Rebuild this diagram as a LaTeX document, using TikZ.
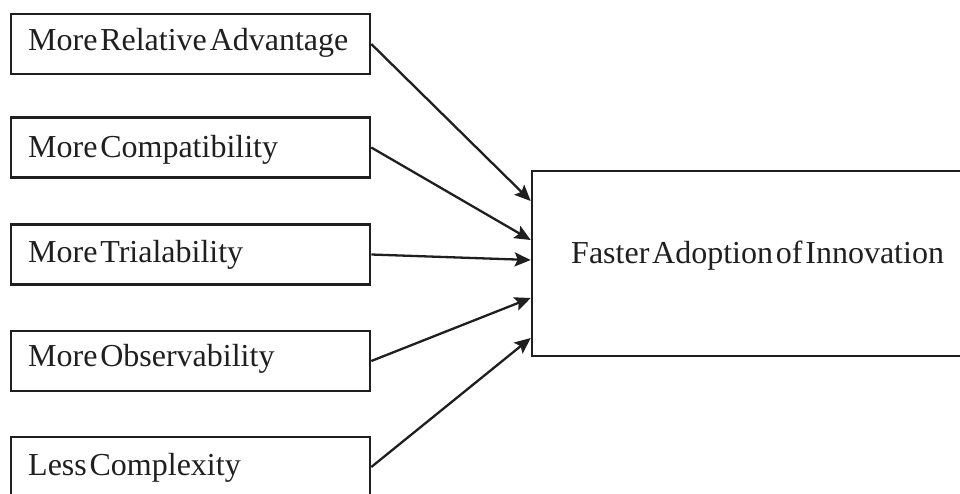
\documentclass[tikz,border=0pt]{standalone}
\usepackage{fontspec}
\setmainfont[WordSpace=0.35]{Liberation Serif}
\usetikzlibrary{arrows.meta}
\begin{document}
\begin{tikzpicture}[x=1pt,y=-1pt,
  factor/.style={draw=black!88, line width=2.6pt, minimum width=359pt,
    minimum height=60pt, inner sep=0pt},
  outcome/.style={draw=black!88, line width=2.6pt, minimum width=460pt,
    minimum height=185pt, inner sep=0pt},
  ftext/.style={anchor=base west, inner sep=0pt, text=black!88,
    font=\fontsize{32}{38}\selectfont},
  link/.style={draw=black!88, line width=2.3pt,
    -{Stealth[length=16pt,width=14pt,inset=3pt]}}]
  \path[use as bounding box, clip] (0,0) rectangle (960,493);

  % factor boxes on the left
  \node[factor] (b1) at (190.5,44) {};
  \node[factor] (b2) at (190.5,147.5) {};
  \node[factor] (b3) at (190.5,254.5) {};
  \node[factor] (b4) at (190.5,361) {};
  \node[factor] (b5) at (190.5,467) {};

  \node[ftext] (t1) at (28,50) {More Relative Advantage};
  \node[ftext] (t2) at (28,157) {More Compatibility};
  \node[ftext] (t3) at (28,262) {More Trialability};
  \node[ftext] (t4) at (28,366) {More Observability};
  \node[ftext] (t5) at (28,475) {Less Complexity};

  % outcome box on the right
  \node[outcome] (fa) at (762,263.5) {};
  \node[ftext] (ft) at (571,263) {Faster Adoption of Innovation};

  % arrows into the outcome box
  \draw[link] (b1.east) -- ([yshift=62.5pt]fa.west);
  \draw[link] (b2.east) -- ([yshift=23.5pt]fa.west);
  \draw[link] (b3.east) -- ([yshift=3.5pt]fa.west);
  \draw[link] (b4.east) -- ([yshift=-34.5pt]fa.west);
  \draw[link] (b5.east) -- ([yshift=-74.5pt]fa.west);
\end{tikzpicture}
\end{document}
